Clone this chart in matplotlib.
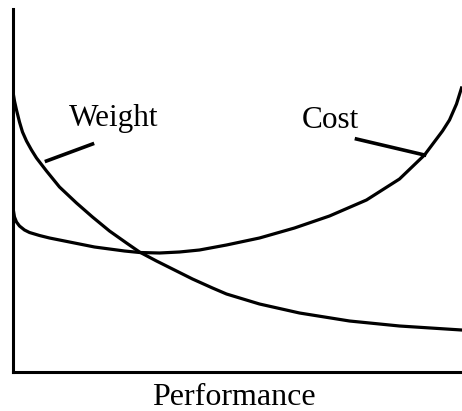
import matplotlib
matplotlib.use('Agg')
import matplotlib.pyplot as plt

# values (arbitrary units)
weight_x = [0, 1, 3, 6, 9, 13, 18, 23, 33, 46, 63, 79, 96, 113, 126, 143,
            161, 179, 199, 213, 246, 286, 336, 386, 448]
weight_y = [277, 271, 262, 250, 240, 231, 222, 214, 201, 185, 169, 155, 141,
            129, 120, 111, 102, 93, 84, 78, 68, 59, 51, 46, 42]

cost_x = [0, 1, 3, 6, 11, 16, 26, 36, 51, 66, 81, 96, 111, 126, 146, 166,
          186, 213, 246, 281, 316, 353, 386, 411, 429, 436, 443, 448]
cost_y = [161, 155, 150, 146, 142, 139.5, 136.5, 134, 131, 128, 125, 123, 121,
          119.5, 119, 120, 122, 127, 134, 144, 156, 172, 193, 217, 241, 252,
          268, 284]

labels = ['Weight', 'Cost']
x_label = 'Performance'

plt.rcParams['font.family'] = ['Liberation Serif', 'DejaVu Serif']

fig = plt.figure(figsize=(4.62, 4.11), dpi=100)
ax = fig.add_axes([0.0292, 0.0949, 0.9708, 0.8832])

for xs, ys in [(weight_x, weight_y), (cost_x, cost_y)]:
    ax.plot(xs, ys, color='black', lw=2.3, solid_joinstyle='round')

# labels with short leader lines
ax.text(55, 246, labels[0], fontsize=22.5, ha='left', va='baseline')
ax.plot([33, 79], [211, 228], color='black', lw=2.6)
ax.text(288, 244, labels[1], fontsize=22.5, ha='left', va='baseline')
ax.plot([343, 411], [233, 217], color='black', lw=2.6)

ax.set_xlim(0, 448.5)
ax.set_ylim(0, 363)
ax.set_xticks([])
ax.set_yticks([])
ax.spines['top'].set_visible(False)
ax.spines['right'].set_visible(False)
ax.spines['left'].set_linewidth(2.2)
ax.spines['bottom'].set_linewidth(2.2)

ax.set_xlabel(x_label, fontsize=23)
ax.xaxis.label.set_va('baseline')
ax.xaxis.set_label_coords(0.4905, -0.092)

fig.savefig('out.png', dpi=100)
